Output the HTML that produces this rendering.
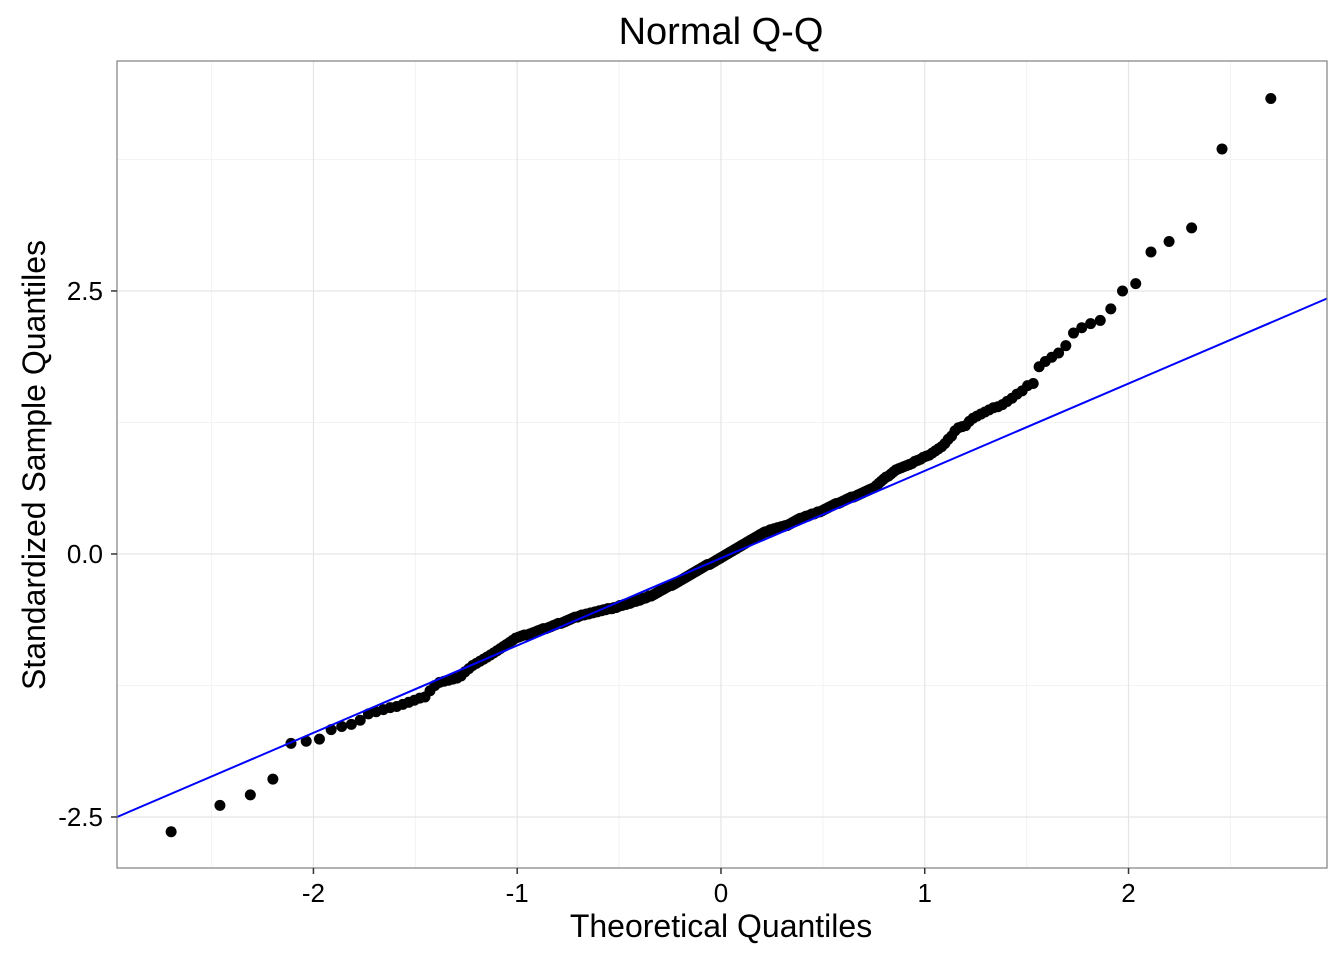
<!DOCTYPE html>
<html><head><meta charset="utf-8"><style>
html,body{margin:0;padding:0;background:#fff;}
svg{display:block;font-family:"Liberation Sans",Arial,sans-serif;}
</style></head><body>
<svg id="chart" width="1344" height="960">
<text x="721" y="44" font-size="38" text-anchor="middle" fill="#000">Normal Q-Q</text>
<text x="721" y="937" font-size="32" text-anchor="middle" fill="#000">Theoretical Quantiles</text>
<text transform="translate(45,465) rotate(-90)" font-size="32" text-anchor="middle" fill="#000">Standardized Sample Quantiles</text>
<g id="grid"></g>
<g id="marks"></g>
<rect x="117" y="61" width="1210" height="807" fill="none" stroke="#7f7f7f" stroke-width="1.2"/>
<g id="axes"></g>
</svg>
<script>
const sampleValues = [
-2.64,-2.39,-2.29,-2.14,-1.80,-1.78,-1.76,
-1.67,-1.64,-1.62,-1.58,-1.52,-1.50,-1.48,-1.46,-1.45,-1.43,-1.41,-1.39,
-1.37,-1.36,-1.30,-1.25,-1.22,-1.21,-1.20,-1.19,-1.18,-1.16,-1.12,-1.09,-1.06,-1.04,-1.02,-1.00,-0.98,-0.96,-0.94,-0.92,-0.90,-0.88,-0.86,-0.84,-0.82,-0.80,
-0.79,-0.78,-0.77,-0.77,-0.76,-0.75,-0.74,-0.73,-0.72,-0.71,-0.71,-0.70,-0.69,-0.68,-0.67,-0.66,-0.66,-0.65,-0.64,-0.63,-0.62,-0.61,-0.60,-0.60,-0.59,-0.58,-0.58,-0.57,-0.57,-0.56,-0.56,-0.55,-0.55,-0.54,-0.54,-0.53,-0.53,-0.52,-0.52,-0.52,-0.51,-0.51,-0.50,
-0.49,-0.49,-0.48,-0.48,-0.47,-0.47,-0.46,-0.45,-0.45,-0.44,-0.44,-0.43,-0.42,-0.42,-0.41,-0.40,-0.40,-0.39,-0.38,-0.37,
-0.36,-0.35,-0.34,-0.33,-0.32,-0.31,-0.30,-0.30,-0.29,-0.28,-0.27,-0.26,-0.25,-0.24,-0.23,-0.22,-0.21,-0.20,-0.19,-0.18,-0.17,-0.16,-0.15,-0.14,-0.13,-0.12,-0.11,-0.10,-0.10,-0.09,-0.08,-0.07,-0.06,-0.05,-0.04,
-0.03,-0.02,-0.01,0.00,0.01,0.02,0.03,0.04,0.05,0.06,0.07,0.08,0.09,0.10,0.11,0.12,0.13,0.14,0.15,0.16,0.17,0.18,0.19,0.20,0.21,0.21,0.22,0.23,
0.23,0.24,0.24,0.25,0.25,0.26,0.26,0.27,0.27,0.28,0.29,0.30,0.31,0.32,0.33,0.34,0.34,0.35,0.36,0.36,0.37,0.38,0.38,0.39,0.40,0.40,0.41,
0.42,0.43,0.44,0.45,0.46,0.47,0.48,0.48,0.49,0.50,0.51,0.52,0.53,0.54,0.54,0.55,0.56,0.57,0.58,0.59,0.60,0.61,0.62,
0.63,0.65,0.67,0.69,0.71,0.73,0.74,0.76,0.78,0.80,0.81,0.82,0.83,0.84,0.85,0.86,0.88,0.89,0.90,0.92,
0.93,0.94,0.96,0.98,1.00,1.02,1.05,1.09,1.12,1.17,1.20,1.21,1.22,1.26,1.29,1.31,1.33,1.35,1.37,1.39,1.40,1.42,1.45,1.48,1.52,1.55,
1.60,1.62,1.78,1.83,1.87,1.91,1.98,2.10,2.15,2.19,2.22,2.33,2.50,2.57,2.87,2.97,3.10,3.85,4.33
];
const lineIntercept = -0.04;
const lineSlope = 0.83;
const xTicks = [-2,-1,0,1,2];
const xTickLabels = ["-2","-1","0","1","2"];
const xMinor = [-2.5,-1.5,-0.5,0.5,1.5,2.5];
const yTicks = [-2.5,0,2.5];
const yTickLabels = ["-2.5","0.0","2.5"];
const yMinor = [-1.25,1.25,3.75];

const L=117,R=1327,T=61,B=868;
const xMin=-2.964,xMax=2.974,yMin=-2.985,yMax=4.686;
const sx=v=>L+(v-xMin)/(xMax-xMin)*(R-L);
const sy=v=>B-(v-yMin)/(yMax-yMin)*(B-T);
const NS="http://www.w3.org/2000/svg";
function mk(tag,attrs,parent){const e=document.createElementNS(NS,tag);for(const k in attrs)e.setAttribute(k,attrs[k]);parent.appendChild(e);return e;}
function qnorm(p){
 const a=[-39.69683028665376,220.9460984245205,-275.9285104469687,138.3577518672690,-30.66479806614716,2.506628277459239];
 const b=[-54.47609879822406,161.5858368580409,-155.6989798598866,66.80131188771972,-13.28068155288572];
 const c=[-0.007784894002430293,-0.3223964580411365,-2.400758277161838,-2.549732539343734,4.374664141464968,2.938163982698783];
 const d=[0.007784695709041462,0.3224671290700398,2.445134137142996,3.754408661907416];
 const pl=0.02425;let q,r;
 if(p<pl){q=Math.sqrt(-2*Math.log(p));return (((((c[0]*q+c[1])*q+c[2])*q+c[3])*q+c[4])*q+c[5])/((((d[0]*q+d[1])*q+d[2])*q+d[3])*q+1);}
 if(p>1-pl){q=Math.sqrt(-2*Math.log(1-p));return -(((((c[0]*q+c[1])*q+c[2])*q+c[3])*q+c[4])*q+c[5])/((((d[0]*q+d[1])*q+d[2])*q+d[3])*q+1);}
 q=p-0.5;r=q*q;return (((((a[0]*r+a[1])*r+a[2])*r+a[3])*r+a[4])*r+a[5])*q/(((((b[0]*r+b[1])*r+b[2])*r+b[3])*r+b[4])*r+1);
}
const grid=document.getElementById('grid'),marks=document.getElementById('marks'),axes=document.getElementById('axes');
xMinor.forEach(v=>{const l=mk('line',{x1:sx(v),x2:sx(v),y1:T,y2:B,stroke:'#f3f3f3','stroke-width':1},grid);

});
yMinor.forEach(v=>{const l=mk('line',{x1:L,x2:R,y1:sy(v),y2:sy(v),stroke:'#f3f3f3','stroke-width':1},grid);

});
xTicks.forEach((v,i)=>{const l=mk('line',{x1:sx(v),x2:sx(v),y1:T,y2:B,stroke:'#e5e5e5','stroke-width':1.2},grid);


const t=mk('line',{x1:sx(v),x2:sx(v),y1:B,y2:B+6,stroke:'#333','stroke-width':1.5},axes);


const tx=mk('text',{x:sx(v),y:B+34,'font-size':26,'text-anchor':'middle',fill:'#000'},axes);tx.textContent=xTickLabels[i];

});
yTicks.forEach((v,i)=>{const l=mk('line',{x1:L,x2:R,y1:sy(v),y2:sy(v),stroke:'#e5e5e5','stroke-width':1.2},grid);


const t=mk('line',{x1:L-6,x2:L,y1:sy(v),y2:sy(v),stroke:'#333','stroke-width':1.5},axes);


const tx=mk('text',{x:L-14,y:sy(v)+9,'font-size':26,'text-anchor':'end',fill:'#000'},axes);tx.textContent=yTickLabels[i];

});
const n=sampleValues.length;
sampleValues.forEach((v,i)=>{const q=qnorm((i+1)/(n+1));
const c=mk('circle',{cx:sx(q),cy:sy(v),r:5.5,fill:'#000'},marks);

});
const ln=mk('line',{x1:L,y1:sy(lineIntercept+lineSlope*xMin),x2:R,y2:sy(lineIntercept+lineSlope*xMax),stroke:'#0000ff','stroke-width':2},marks);


</script>
</body></html>
